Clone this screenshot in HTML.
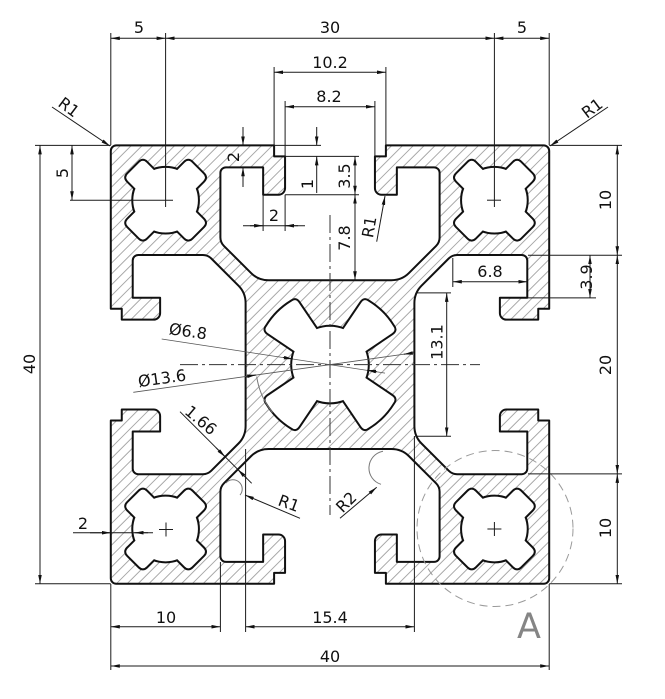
<!DOCTYPE html>
<html>
<head>
<meta charset="utf-8">
<style>
html,body{margin:0;padding:0;background:#fff;}
svg{display:block;}
</style>
</head>
<body>
<svg width="665" height="699" viewBox="0 0 665 699" xmlns="http://www.w3.org/2000/svg">
<defs>
  <pattern id="h" patternUnits="userSpaceOnUse" width="0.7" height="0.7" patternTransform="rotate(45)">
    <line x1="0.35" y1="-1" x2="0.35" y2="2" stroke="#a4a4a4" stroke-width="0.085"/>
  </pattern>
  <marker id="ar" viewBox="0 0 9 3.6" refX="9" refY="1.8" markerWidth="9" markerHeight="3.6" markerUnits="userSpaceOnUse" orient="auto-start-reverse">
    <path d="M0,0L9,1.8L0,3.6Z" fill="#111"/>
  </marker>
  <g id="ch">
    <circle r="2.95" vector-effect="non-scaling-stroke"/>
    <path transform="rotate(45)" vector-effect="non-scaling-stroke" d="M0,-1.19 L3.67,-1.19 Q4.12,-1.19 4.12,-0.74 L4.12,0.74 Q4.12,1.19 3.67,1.19 L0,1.19 Z"/>
    <path transform="rotate(135)" vector-effect="non-scaling-stroke" d="M0,-1.19 L3.67,-1.19 Q4.12,-1.19 4.12,-0.74 L4.12,0.74 Q4.12,1.19 3.67,1.19 L0,1.19 Z"/>
    <path transform="rotate(225)" vector-effect="non-scaling-stroke" d="M0,-1.19 L3.67,-1.19 Q4.12,-1.19 4.12,-0.74 L4.12,0.74 Q4.12,1.19 3.67,1.19 L0,1.19 Z"/>
    <path transform="rotate(315)" vector-effect="non-scaling-stroke" d="M0,-1.19 L3.67,-1.19 Q4.12,-1.19 4.12,-0.74 L4.12,0.74 Q4.12,1.19 3.67,1.19 L0,1.19 Z"/>
  </g>
  <g id="mh">
    <circle r="3.45" vector-effect="non-scaling-stroke"/>
    <path transform="rotate(45)" vector-effect="non-scaling-stroke" d="M1.5,-1.1 L6.0,-1.97 Q6.5,-2.07 6.55,-1.6 A6.8,6.8 0 0 1 6.55,1.6 Q6.5,2.07 6.0,1.97 L1.5,1.1 Z"/>
    <path transform="rotate(135)" vector-effect="non-scaling-stroke" d="M1.5,-1.1 L6.0,-1.97 Q6.5,-2.07 6.55,-1.6 A6.8,6.8 0 0 1 6.55,1.6 Q6.5,2.07 6.0,1.97 L1.5,1.1 Z"/>
    <path transform="rotate(225)" vector-effect="non-scaling-stroke" d="M1.5,-1.1 L6.0,-1.97 Q6.5,-2.07 6.55,-1.6 A6.8,6.8 0 0 1 6.55,1.6 Q6.5,2.07 6.0,1.97 L1.5,1.1 Z"/>
    <path transform="rotate(315)" vector-effect="non-scaling-stroke" d="M1.5,-1.1 L6.0,-1.97 Q6.5,-2.07 6.55,-1.6 A6.8,6.8 0 0 1 6.55,1.6 Q6.5,2.07 6.0,1.97 L1.5,1.1 Z"/>
  </g>
</defs>

<rect width="665" height="699" fill="#fff"/>

<!-- Profile -->
<g transform="translate(330,364.6) scale(10.96)">
  <path fill="url(#h)" stroke="#111" stroke-width="2" stroke-linejoin="round" vector-effect="non-scaling-stroke" d="
M -19.5,-20
L -5.1,-20 L -5.1,-19 L -4.1,-19 L -4.1,-16.1 A 0.6 0.6 0 0 1 -4.7,-15.5 L -6.1,-15.5 L -6.1,-18 L -9.5,-18 A 0.5 0.5 0 0 0 -10,-17.5 L -10,-11.6 Q -10,-11.15 -9.68,-10.83 L -7.2,-8.35 Q -6.55,-7.7 -5.6,-7.7 L 5.6,-7.7 Q 6.55,-7.7 7.2,-8.35 L 9.68,-10.83 Q 10,-11.15 10,-11.6 L 10,-17.5 A 0.5 0.5 0 0 0 9.5,-18 L 6.1,-18 L 6.1,-15.5 L 4.7,-15.5 A 0.6 0.6 0 0 1 4.1,-16.1 L 4.1,-19 L 5.1,-19 L 5.1,-20 L 19.5,-20 A 0.5 0.5 0 0 1 20,-19.5
L 20,-5.1 L 19,-5.1 L 19,-4.1 L 16.1,-4.1 A 0.6 0.6 0 0 1 15.5,-4.7 L 15.5,-6.1 L 18,-6.1 L 18,-9.5 A 0.5 0.5 0 0 0 17.5,-10 L 11.6,-10 Q 11.15,-10 10.83,-9.68 L 8.35,-7.2 Q 7.7,-6.55 7.7,-5.6 L 7.7,5.6 Q 7.7,6.55 8.35,7.2 L 10.83,9.68 Q 11.15,10 11.6,10 L 17.5,10 A 0.5 0.5 0 0 0 18,9.5 L 18,6.1 L 15.5,6.1 L 15.5,4.7 A 0.6 0.6 0 0 1 16.1,4.1 L 19,4.1 L 19,5.1 L 20,5.1 L 20,19.5 A 0.5 0.5 0 0 1 19.5,20
L 5.1,20 L 5.1,19 L 4.1,19 L 4.1,16.1 A 0.6 0.6 0 0 1 4.7,15.5 L 6.1,15.5 L 6.1,18 L 9.5,18 A 0.5 0.5 0 0 0 10,17.5 L 10,11.6 Q 10,11.15 9.68,10.83 L 7.2,8.35 Q 6.55,7.7 5.6,7.7 L -5.6,7.7 Q -6.55,7.7 -7.2,8.35 L -9.68,10.83 Q -10,11.15 -10,11.6 L -10,17.5 A 0.5 0.5 0 0 0 -9.5,18 L -6.1,18 L -6.1,15.5 L -4.7,15.5 A 0.6 0.6 0 0 1 -4.1,16.1 L -4.1,19 L -5.1,19 L -5.1,20 L -19.5,20 A 0.5 0.5 0 0 1 -20,19.5
L -20,5.1 L -19,5.1 L -19,4.1 L -16.1,4.1 A 0.6 0.6 0 0 1 -15.5,4.7 L -15.5,6.1 L -18,6.1 L -18,9.5 A 0.5 0.5 0 0 0 -17.5,10 L -11.6,10 Q -11.15,10 -10.83,9.68 L -8.35,7.2 Q -7.7,6.55 -7.7,5.6 L -7.7,-5.6 Q -7.7,-6.55 -8.35,-7.2 L -10.83,-9.68 Q -11.15,-10 -11.6,-10 L -17.5,-10 A 0.5 0.5 0 0 0 -18,-9.5 L -18,-6.1 L -15.5,-6.1 L -15.5,-4.7 A 0.6 0.6 0 0 1 -16.1,-4.1 L -19,-4.1 L -19,-5.1 L -20,-5.1 L -20,-19.5 A 0.5 0.5 0 0 1 -19.5,-20 Z"/>

  <!-- holes: outline pass -->
  <g fill="#111" stroke="#111" stroke-width="4" stroke-linejoin="round">
    <use href="#ch" transform="translate(-15,-15)"/>
    <use href="#ch" transform="translate(15,-15)"/>
    <use href="#ch" transform="translate(-15,15)"/>
    <use href="#ch" transform="translate(15,15)"/>
    <use href="#mh"/>
  </g>
  <!-- holes: white fill pass -->
  <g fill="#fff" stroke="none">
    <use href="#ch" transform="translate(-15,-15)"/>
    <use href="#ch" transform="translate(15,-15)"/>
    <use href="#ch" transform="translate(-15,15)"/>
    <use href="#ch" transform="translate(15,15)"/>
    <use href="#mh"/>
  </g>
</g>

<!-- Centerlines -->
<g stroke="#333" stroke-width="1" stroke-dasharray="18 4 3 4" fill="none">
  <line x1="330" y1="215" x2="330" y2="515"/>
  <line x1="180" y1="364.6" x2="480" y2="364.6"/>
</g>

<!-- Detail circle A -->
<circle cx="495" cy="528.5" r="78" fill="none" stroke="#9a9a9a" stroke-width="1" stroke-dasharray="8 5"/>

<!-- thin reference arcs -->
<g fill="none" stroke="#777" stroke-width="1">
  <path d="M256.7,376.6 A74.5 74.5 0 0 0 272.5,412.5"/>
  <path d="M226,483 A9 9 0 0 1 240,495"/>
  <path d="M383,451.3 A17 17 0 0 0 381,484.3"/>
</g>

<!-- Extension lines & plain lines -->
<g stroke="#1a1a1a" stroke-width="1" fill="none">
  <line x1="110.8" y1="33" x2="110.8" y2="145"/>
  <line x1="165.6" y1="33" x2="165.6" y2="207"/>
  <line x1="494.4" y1="33" x2="494.4" y2="207"/>
  <line x1="549.2" y1="33" x2="549.2" y2="145"/>
  <line x1="274.1" y1="67" x2="274.1" y2="145.4"/>
  <line x1="385.9" y1="67" x2="385.9" y2="145.4"/>
  <line x1="285.1" y1="101" x2="285.1" y2="156.4"/>
  <line x1="374.9" y1="101" x2="374.9" y2="156.4"/>
  <line x1="274.1" y1="145.4" x2="321" y2="145.4"/>
  <line x1="285.1" y1="156.4" x2="359" y2="156.4"/>
  <line x1="285.1" y1="194.7" x2="359" y2="194.7"/>
  <line x1="263.1" y1="194.7" x2="263.1" y2="231"/>
  <line x1="285.1" y1="194.7" x2="285.1" y2="231"/>
  <line x1="243" y1="225.7" x2="305" y2="225.7"/>
  <line x1="70" y1="200.2" x2="173" y2="200.2"/>
  <line x1="487" y1="200.2" x2="501" y2="200.2"/>
  <line x1="35" y1="145.4" x2="110.8" y2="145.4"/>
  <line x1="35" y1="583.8" x2="110.8" y2="583.8"/>
  <line x1="549.2" y1="145.4" x2="622" y2="145.4"/>
  <line x1="528" y1="255.2" x2="622" y2="255.2"/>
  <line x1="528" y1="473.9" x2="622" y2="473.9"/>
  <line x1="549.2" y1="583.8" x2="622" y2="583.8"/>
  <line x1="528" y1="297.9" x2="596" y2="297.9"/>
  <line x1="452.8" y1="258" x2="452.8" y2="287"/>
  <line x1="416" y1="292.9" x2="451" y2="292.9"/>
  <line x1="416" y1="436.3" x2="451" y2="436.3"/>
  <line x1="110.8" y1="584" x2="110.8" y2="670"/>
  <line x1="549.2" y1="584" x2="549.2" y2="670"/>
  <line x1="220.4" y1="562" x2="220.4" y2="632"/>
  <line x1="245.6" y1="449" x2="245.6" y2="632"/>
  <line x1="414.4" y1="436" x2="414.4" y2="632"/>
  <line x1="73" y1="532.7" x2="153" y2="532.7"/>
  <line x1="159" y1="529.5" x2="173" y2="529.5"/>
  <line x1="166" y1="522.5" x2="166" y2="536.5"/>
  <line x1="487.4" y1="529" x2="501.4" y2="529"/>
  <line x1="494.4" y1="522" x2="494.4" y2="536"/>
  <line x1="180" y1="411.7" x2="251.7" y2="483.3"/>
</g>
<g stroke="#555" stroke-width="0.8" fill="none">
  <line x1="161.7" y1="339" x2="385" y2="373.1"/>
  <line x1="133.3" y1="392.3" x2="413.3" y2="352.9"/>
</g>

<!-- Dimension lines with arrows -->
<g stroke="#1a1a1a" stroke-width="1" fill="none" marker-start="url(#ar)" marker-end="url(#ar)">
  <line x1="110.8" y1="38.3" x2="165.6" y2="38.3"/>
  <line x1="165.6" y1="38.3" x2="494.4" y2="38.3"/>
  <line x1="494.4" y1="38.3" x2="549.2" y2="38.3"/>
  <line x1="274.1" y1="72.3" x2="385.9" y2="72.3"/>
  <line x1="285.1" y1="106.7" x2="374.9" y2="106.7"/>
  <line x1="355" y1="156.4" x2="355" y2="194.7"/>
  <line x1="355" y1="194.7" x2="355" y2="280.2"/>
  <line x1="72" y1="145.4" x2="72" y2="200.2"/>
  <line x1="40" y1="145.4" x2="40" y2="583.8"/>
  <line x1="617.3" y1="145.4" x2="617.3" y2="255.2"/>
  <line x1="617.3" y1="255.2" x2="617.3" y2="473.9"/>
  <line x1="617.3" y1="473.9" x2="617.3" y2="583.8"/>
  <line x1="590" y1="255.2" x2="590" y2="297.9"/>
  <line x1="452.8" y1="281.7" x2="527.3" y2="281.7"/>
  <line x1="446.7" y1="292.9" x2="446.7" y2="436.3"/>
  <line x1="110.8" y1="626.7" x2="220.4" y2="626.7"/>
  <line x1="245.6" y1="626.7" x2="414.4" y2="626.7"/>
  <line x1="110.8" y1="666" x2="549.2" y2="666"/>
</g>
<g stroke="#1a1a1a" stroke-width="1" fill="none" marker-end="url(#ar)">
  <line x1="243" y1="127" x2="243" y2="145.4"/>
  <line x1="243" y1="187" x2="243" y2="167.3"/>
  <line x1="316.7" y1="127" x2="316.7" y2="145.4"/>
  <line x1="316.7" y1="193" x2="316.7" y2="156.4"/>
  <line x1="250" y1="225.7" x2="263.1" y2="225.7"/>
  <line x1="298" y1="225.7" x2="285.1" y2="225.7"/>
  <line x1="376.7" y1="241.7" x2="385" y2="196"/>
  <line x1="52" y1="107" x2="110" y2="146"/>
  <line x1="608" y1="107" x2="550" y2="146"/>
  <line x1="90" y1="532.7" x2="110.8" y2="532.7"/>
  <line x1="148" y1="532.7" x2="134.5" y2="532.7"/>
  <line x1="283" y1="357.5" x2="292.9" y2="359"/>
  <line x1="376.9" y1="371.7" x2="367.1" y2="370.2"/>
  <line x1="246.3" y1="376.4" x2="256.2" y2="375"/>
  <line x1="413.3" y1="352.9" x2="403.8" y2="354.2"/>
  <line x1="216" y1="447.7" x2="225.2" y2="456.9"/>
  <line x1="246.7" y1="478.4" x2="237.7" y2="469.4"/>
  <line x1="300" y1="518.3" x2="245" y2="495"/>
  <line x1="340" y1="518.3" x2="376.7" y2="487.3"/>
</g>

<!-- Texts -->
<g font-family="'DejaVu Sans', 'Liberation Sans', sans-serif" font-size="16" fill="#111" text-anchor="middle">
  <text x="139" y="33">5</text>
  <text x="330" y="33">30</text>
  <text x="522" y="33">5</text>
  <text x="330" y="68">10.2</text>
  <text x="329" y="102">8.2</text>
  <text x="490" y="277">6.8</text>
  <text x="274" y="221">2</text>
  <text x="166" y="623">10</text>
  <text x="330" y="623">15.4</text>
  <text x="330" y="662">40</text>
  <text x="83" y="529">2</text>
  <text transform="translate(62,173) rotate(-90)" y="5.8">5</text>
  <text transform="translate(233,157) rotate(-90)" y="5.8">2</text>
  <text transform="translate(307,184) rotate(-90)" y="5.8">1</text>
  <text transform="translate(344,176) rotate(-90)" y="5.8">3.5</text>
  <text transform="translate(344,238) rotate(-90)" y="5.8">7.8</text>
  <text transform="translate(605,200) rotate(-90)" y="5.8">10</text>
  <text transform="translate(586,277) rotate(-90)" y="5.8">3.9</text>
  <text transform="translate(436.5,342) rotate(-90)" y="5.8">13.1</text>
  <text transform="translate(605,365) rotate(-90)" y="5.8">20</text>
  <text transform="translate(605,528) rotate(-90)" y="5.8">10</text>
  <text transform="translate(29,364) rotate(-90)" y="5.8">40</text>
  <text transform="translate(69,107) rotate(37)" y="5.8">R1</text>
  <text transform="translate(592,108) rotate(-37)" y="5.8">R1</text>
  <text transform="translate(369,227) rotate(-80)" y="5.8">R1</text>
  <text transform="translate(188,331) rotate(8)" y="5.8">Ø6.8</text>
  <text transform="translate(162,378) rotate(-8)" y="5.8">Ø13.6</text>
  <text transform="translate(201,420) rotate(40)" y="5.8">1.66</text>
  <text transform="translate(289,503) rotate(20)" y="5.8">R1</text>
  <text transform="translate(346,502) rotate(-45)" y="5.8">R2</text>
</g>
<text x="529" y="638" font-family="'DejaVu Sans', 'Liberation Sans', sans-serif" font-size="35" fill="#858585" text-anchor="middle">A</text>
</svg>
</body>
</html>
